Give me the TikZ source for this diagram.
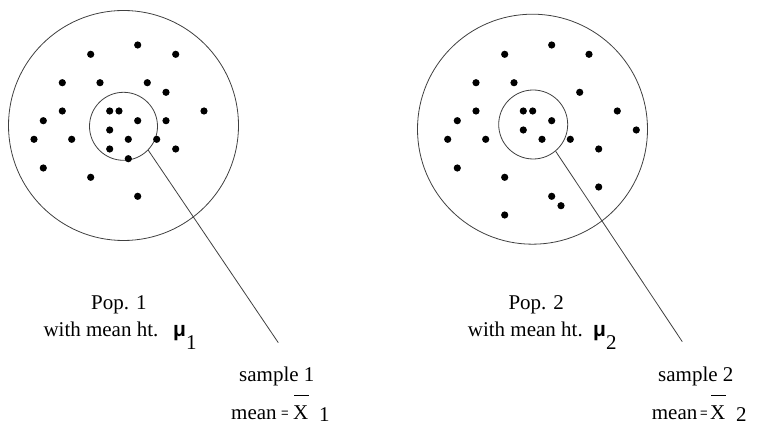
\documentclass[tikz,border=0pt]{standalone}
\usepackage{fontspec}
\setmainfont{Liberation Serif}
\newfontfamily\symfont{Liberation Sans}
\begin{document}
\begin{tikzpicture}[x=1pt,y=-1pt,
  ring/.style={draw=black!75,line width=0.8pt,circle,inner sep=0pt,minimum size=#1},
  lbl/.style={anchor=base west,inner sep=0pt,font=\fontsize{21}{25}\selectfont},
  eqs/.style={anchor=base west,inner sep=0pt,font=\symfont\fontsize{13}{15}\selectfont},
  sym/.style={anchor=base west,inner sep=0pt,font=\symfont\bfseries\fontsize{21}{25}\selectfont},
  link/.style={draw=black!75,line width=0.8pt},
  dot/.style={fill=black}]
\useasboundingbox (0,0) rectangle (761,427);
% population 1
\node[ring=230pt] (p1) at (123.5,125.5) {};
\node[ring=68pt] (s1) at (123.5,126.3) {};
\foreach \x/\y in {137.7/45,90.7/54.3,175.7/54.3,62.3/82.7,100/82.7,147.3/82.7,166/92.3,
  62.3/111,109.7/111,119/111,204/111,43.3/120.7,137.7/120.7,166/120.7,109.7/130,
  34/139.3,71.7/139.3,128.3/139.3,156.7/139.3,109.7/149,175.7/149,128.3/158.7,
  43.3/168,90.7/177.3,137.7/196.3}
  \fill[dot] (\x,\y) circle (3.6pt);
\coordinate (e1) at (278.3,342.7);
\draw[link] (s1.-44) -- (e1);
% population 2
\node[ring=230pt] (p2) at (532.5,129.2) {};
\node[ring=69pt] (s2) at (533.2,124.5) {};
\foreach \x/\y in {551.7/45,504.7/54.3,589/54.3,476/82.7,514/82.7,579.7/92.3,
  476/111,523.3/111,532.7/111,617.3/111,457.3/120.7,551.7/120.7,636.3/130,523.3/130,
  447.7/139.3,485.7/139.3,542/139.3,570.3/139.3,598.7/149,457.3/168,504.7/177.3,
  598.7/187,551.7/196.3,561/205.7,504.7/215}
  \fill[dot] (\x,\y) circle (3.6pt);
\coordinate (e2) at (682.3,341.7);
\draw[link] (s2.-50) -- (e2);
% labels 1
\node[lbl] (pop1) at (91,309.5) {Pop. 1};
\node[lbl] (with1) at (43.3,337) {with mean ht.};
\node[sym] (mu1) at (173,337) {μ};
\node[lbl] (mus1) at (186,349.5) {1};
\node[lbl] (samp1) at (239,382) {sample 1};
\node[lbl] (mean1) at (231,420) {mean};
\node[eqs] (eq1) at (281,418) {=};
\node[lbl] (xb1) at (293,420) {\rlap{\hspace{1pt}\raisebox{24pt}{\rule{15pt}{0.8pt}}}X};
\node[lbl] (xs1) at (319,422) {1};
% labels 2
\node[lbl] (pop2) at (508.3,309.5) {Pop. 2};
\node[lbl] (with2) at (467.7,337) {with mean ht.};
\node[sym] (mu2) at (593,337) {μ};
\node[lbl] (mus2) at (606,349.5) {2};
\node[lbl] (samp2) at (658,382) {sample 2};
\node[lbl] (mean2) at (651.7,420) {mean};
\node[eqs] (eq2) at (700,418) {=};
\node[lbl] (xb2) at (710,420) {\rlap{\hspace{1pt}\raisebox{24pt}{\rule{15pt}{0.8pt}}}X};
\node[lbl] (xs2) at (736,422) {2};
\end{tikzpicture}
\end{document}
